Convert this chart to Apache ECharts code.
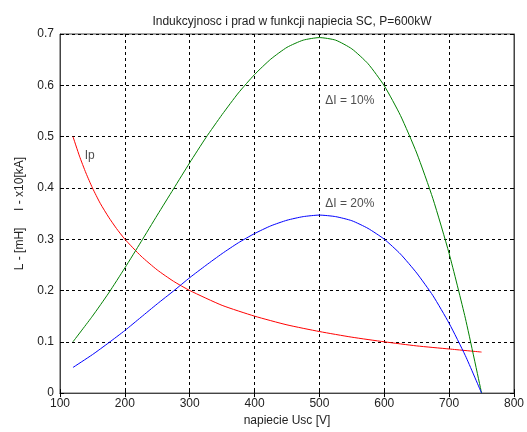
<!DOCTYPE html>
<html>
<head>
<meta charset="utf-8">
<script src="https://cdn.jsdelivr.net/npm/echarts@6/dist/echarts.min.js"></script>
<style>
  html, body { margin: 0; padding: 0; background: #fff; }
  #chart { width: 527px; height: 432px; }
</style>
</head>
<body>
<div id="chart"></div>
<script>
const titleText = 'Indukcyjnosc i prad w funkcji napiecia SC, P=600kW'
const xName = 'napiecie Usc [V]'
const yName = 'L - [mH]     I - x10[kA]'

// napiecie Usc for the L curves
const usc = [120, 150, 175, 200, 225, 250, 275, 300, 325, 350, 375, 400, 425, 450, 475, 500, 525, 550, 575, 600, 625, 650, 675, 700, 725, 750]

// dI = 10%
const l10Y = [0.10, 0.150, 0.195, 0.244, 0.295, 0.347, 0.398, 0.449, 0.498, 0.543, 0.585, 0.621, 0.651, 0.674, 0.688, 0.693, 0.688, 0.671, 0.642, 0.599, 0.541, 0.468, 0.379, 0.272, 0.146, 0.0]

// dI = 20%
const l20Y = [0.05, 0.075, 0.098, 0.122, 0.148, 0.174, 0.199, 0.225, 0.249, 0.272, 0.293, 0.311, 0.326, 0.337, 0.344, 0.347, 0.344, 0.336, 0.321, 0.30, 0.271, 0.234, 0.19, 0.136, 0.073, 0.0]

// Ip
const ipX = [120, 130, 140, 150, 162, 175, 187, 200, 225, 250, 275, 300, 350, 400, 450, 500, 550, 600, 650, 700, 750]
const ipY = [0.50, 0.462, 0.429, 0.40, 0.37, 0.343, 0.321, 0.30, 0.267, 0.24, 0.218, 0.20, 0.171, 0.15, 0.133, 0.12, 0.109, 0.10, 0.092, 0.086, 0.08]

const labels = [
    { text: 'Ip', x: 138, y: 0.462 },
    { text: '\u0394I = 10%', x: 509, y: 0.570 },
    { text: '\u0394I = 20%', x: 509, y: 0.369 }
]

const pairs = (xs, ys) => xs.map((x, i) => [x, ys[i]])

const chart = echarts.init(document.getElementById('chart'))
const font = 'Liberation Sans, Arial, sans-serif'
const gridDash = { type: [3, 3], color: '#000', width: 1 }
const inTick = { show: true, inside: true, length: 4, lineStyle: { color: '#000' } }

const option = {
    animation: false,
    title: {
        text: titleText,
        left: 287,
        top: 11,
        textAlign: 'center',
        textStyle: { fontFamily: font, fontSize: 12, fontWeight: 'normal', color: '#222' }
    },
    grid: { left: 60, right: 12, top: 34, bottom: 36, show: true, borderColor: '#444', borderWidth: 1 },
    xAxis: [{
        type: 'value', min: 100, max: 800, interval: 100,
        name: xName, nameLocation: 'middle', nameGap: 21,
        nameTextStyle: { fontFamily: font, fontSize: 12, color: '#222' },
        axisLine: { lineStyle: { color: '#444' } },
        axisTick: inTick,
        axisLabel: { fontFamily: font, fontSize: 12, color: '#222', margin: 5 },
        splitLine: { lineStyle: gridDash }
    }, {
        type: 'value', min: 100, max: 800, interval: 100, position: 'top',
        axisLine: { show: true, lineStyle: { color: '#444' } },
        axisTick: inTick,
        axisLabel: { show: false }, splitLine: { show: false }
    }],
    yAxis: [{
        type: 'value', min: 0, max: 0.7, interval: 0.1,
        name: yName, nameLocation: 'middle', nameGap: 34,
        nameTextStyle: { fontFamily: font, fontSize: 12, color: '#222' },
        axisLine: { show: true, lineStyle: { color: '#444' } },
        axisTick: inTick,
        axisLabel: { fontFamily: font, fontSize: 12, color: '#222', margin: 6 },
        splitLine: { lineStyle: gridDash }
    }, {
        type: 'value', min: 0, max: 0.7, interval: 0.1, position: 'right',
        axisLine: { show: true, lineStyle: { color: '#444' } },
        axisTick: inTick,
        axisLabel: { show: false }, splitLine: { show: false }
    }],
    series: [
        {
            name: 'Ip', type: 'line', data: pairs(ipX, ipY), smooth: 0.2, symbol: 'none',
            lineStyle: { color: '#ff0000', width: 1 }
        },
        {
            name: 'dI10', type: 'line', data: pairs(usc, l10Y), smooth: 0.2, symbol: 'none',
            lineStyle: { color: '#008000', width: 1 }
        },
        {
            name: 'dI20', type: 'line', data: pairs(usc, l20Y), smooth: 0.2, symbol: 'none',
            lineStyle: { color: '#0000ff', width: 1 }
        },
        {
            name: 'labels', type: 'scatter', symbolSize: 0,
            data: labels.map(l => ({ value: [l.x, l.y], name: l.text })),
            label: {
                show: true, position: 'right', distance: 0,
                formatter: p => p.name,
                fontFamily: font, fontSize: 12, color: '#222'
            },
            silent: true
        }
    ]
}
chart.setOption(option)
</script>
</body>
</html>
